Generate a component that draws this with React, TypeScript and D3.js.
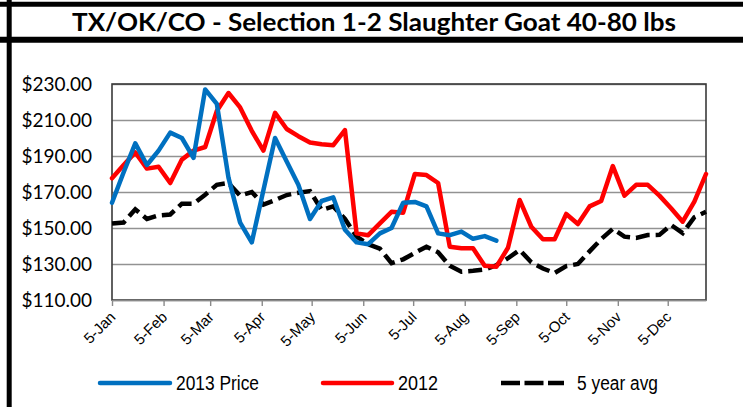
import * as d3 from 'd3'
import { useEffect, useRef } from 'react'

// weekly sale dates (MM-DD), 2013 calendar
const WEEKS = [
    '01-05', '01-12', '01-19', '01-26', '02-02', '02-09', '02-16', '02-23',
    '03-02', '03-09', '03-16', '03-23', '03-30', '04-06', '04-13', '04-20', '04-27',
    '05-04', '05-11', '05-18', '05-25', '06-01', '06-08', '06-15', '06-22', '06-29',
    '07-06', '07-13', '07-20', '07-27', '08-03', '08-10', '08-17', '08-24', '08-31',
    '09-07', '09-14', '09-21', '09-28', '10-05', '10-12', '10-19', '10-26',
    '11-02', '11-09', '11-16', '11-23', '11-30', '12-07', '12-14', '12-21', '12-28'
]

const PRICE_2013 = [
    164, 181, 197, 185, 193, 203, 200, 189, 227, 219, 178, 153, 142, 171, 200, 187, 174,
    155, 165, 167, 149, 142, 141, 147, 150, 164, 164.5, 162, 147, 146, 148, 144, 145.5, 143
]

const PRICE_2012 = [
    177.6, 185, 192, 183, 184, 175, 188, 193, 195, 215, 225, 217, 204, 193, 214, 205, 201,
    197.5, 196.5, 196, 204.4, 147, 146, 152.6, 159, 158.5, 180, 179.4, 175, 139.6, 138.7,
    138.7, 129, 128.5, 139, 165.6, 150.7, 143.7, 143.7, 157.8, 152.2, 162, 165, 184.4,
    168, 174, 174, 168, 161, 153.5, 164.6, 180
]

const AVG_5YR = [
    152.5, 153, 160.4, 155, 157, 157.5, 163.5, 163.5, 168.5, 174, 175, 168, 170, 163,
    165.5, 168.3, 169.6, 170.5, 160, 162, 155, 145.2, 141, 138.5, 130.5, 132.6, 136.2,
    139.6, 136.5, 129, 125.7, 126.2, 127, 129.3, 133.2, 137.8, 131, 127.5, 125, 128.8,
    130, 137, 143.8, 149.5, 145.2, 144.5, 146.1, 146.2, 151.7, 147.2, 156, 159
]

const MONTH_TICKS = [
    '01-05', '02-05', '03-05', '04-05', '05-05', '06-05',
    '07-05', '08-05', '09-05', '10-05', '11-05', '12-05'
]

const Y_TICKS = [110, 130, 150, 170, 190, 210, 230]

const TITLE = 'TX/OK/CO - Selection 1-2 Slaughter Goat 40-80 lbs'

const SERIES_NAMES = ['2013 Price', '2012', '5 year avg']

const WIDTH = 743
const HEIGHT = 407
const MARGIN = { top: 84, right: 37, bottom: 107, left: 112 }
const NARROW = "'Liberation Sans Narrow', 'Arial Narrow', 'Liberation Sans', Arial, sans-serif"

const select = d3.select
const toDate = (md: string) => new Date(2013, +md.slice(0, 2) - 1, +md.slice(3))

interface AxisProps {
    xScale: d3.ScaleTime<number, number>
    yScale: d3.ScaleLinear<number, number>
}

/* Y axis + gridlines */
const AxisLeft = ({ xScale, yScale }: AxisProps) => {
    const ref = useRef<SVGGElement>(null)

    useEffect(() => {
        if (!ref.current) return
        const w = xScale.range()[1] - xScale.range()[0]
        const g = select(ref.current)
        g.call(
            d3.axisLeft(yScale)
                .tickValues(Y_TICKS)
                .tickSize(-w)
                .tickPadding(20)
                .tickFormat((d) => '$' + d3.format('.2f')(d as number))
        )
        g.select('.domain').remove()
        g.selectAll('line').attr('stroke', '#929292').attr('stroke-width', 1.6)
        g.selectAll('text')
            .attr('fill', '#000')
            .style('font-family', 'Lato, sans-serif')
            .style('font-size', '19px')
    }, [xScale, yScale])

    return <g ref={ref} transform={`translate(${MARGIN.left},0)`} />
}

/* X axis */
const AxisBottom = ({ xScale, yScale }: AxisProps) => {
    const ref = useRef<SVGGElement>(null)

    useEffect(() => {
        if (!ref.current) return
        const g = select(ref.current)
        g.call(
            d3.axisBottom(xScale)
                .tickValues(MONTH_TICKS.map(toDate))
                .tickSizeInner(6)
                .tickSizeOuter(0)
                .tickFormat((d) => d3.timeFormat('%-d-%b')(d as Date))
        )
        g.select('.domain').attr('stroke', '#8a8a8a').attr('stroke-width', 1.6)
        g.selectAll('line').attr('stroke', '#8a8a8a').attr('stroke-width', 1.4)
        g.selectAll('text')
            .attr('fill', '#000')
            .attr('text-anchor', 'end')
            .attr('y', 0)
            .attr('dy', 0)
            .attr('transform', 'translate(4,18) rotate(-45)')
            .style('font-family', NARROW)
            .style('font-size', '15px')
    }, [xScale, yScale])

    return <g ref={ref} transform={`translate(0,${yScale.range()[0]})`} />
}

export default function App() {
    const dates = WEEKS.map(toDate)
    const xScale = d3.scaleTime()
        .domain([dates[0], dates[dates.length - 1]])
        .range([MARGIN.left, WIDTH - MARGIN.right])
    const yScale = d3.scaleLinear()
        .domain([110, 230])
        .range([HEIGHT - MARGIN.bottom, MARGIN.top])

    const line = d3.line<number>()
        .x((_, i) => xScale(dates[i]))
        .y((d) => yScale(d))

    const plotW = WIDTH - MARGIN.right - MARGIN.left
    const plotH = HEIGHT - MARGIN.bottom - MARGIN.top
    const legendY = 383

    return (
        <svg width={WIDTH} height={HEIGHT} style={{ position: 'absolute', left: 0, top: 0, background: '#fff' }}>
            {/* frame */}
            <line x1={0} x2={WIDTH} y1={4.3} y2={4.3} stroke="#000" strokeWidth={5} />
            <line x1={0} x2={WIDTH} y1={39.7} y2={39.7} stroke="#000" strokeWidth={6} />
            <line x1={9.2} x2={9.2} y1={0} y2={HEIGHT} stroke="#000" strokeWidth={5} />
            <text x={374} y={30.5} textAnchor="middle" fontFamily="Lato, sans-serif" fontWeight="bold"
                fontSize={24} textLength={604} lengthAdjust="spacingAndGlyphs">{TITLE}</text>

            <AxisLeft xScale={xScale} yScale={yScale} />
            <rect x={MARGIN.left} y={MARGIN.top} width={plotW} height={plotH}
                fill="none" stroke="#3a3a3a" strokeWidth={1.6} />
            <AxisBottom xScale={xScale} yScale={yScale} />

            <path d={line(AVG_5YR) as string} fill="none" stroke="#000" strokeWidth={4.5}
                strokeDasharray="14 6" />
            <path d={line(PRICE_2012) as string} fill="none" stroke="#ff0000" strokeWidth={4.5}
                strokeLinejoin="round" strokeLinecap="round" />
            <path d={line(PRICE_2013) as string} fill="none" stroke="#0070c0" strokeWidth={4.5}
                strokeLinejoin="round" strokeLinecap="round" />

            {/* legend */}
            <g fontFamily={NARROW} fontSize={20}>
                <line x1={100} x2={170} y1={legendY} y2={legendY} stroke="#0070c0" strokeWidth={4.5} strokeLinecap="round" />
                <text x={176} y={legendY + 7} textLength={83} lengthAdjust="spacingAndGlyphs">{SERIES_NAMES[0]}</text>
                <line x1={323} x2={392} y1={legendY} y2={legendY} stroke="#ff0000" strokeWidth={4.5} strokeLinecap="round" />
                <text x={398} y={legendY + 7} textLength={40} lengthAdjust="spacingAndGlyphs">{SERIES_NAMES[1]}</text>
                <line x1={501} x2={564} y1={legendY} y2={legendY} stroke="#000" strokeWidth={4.5} strokeDasharray="19 4.5" />
                <text x={577} y={legendY + 7} textLength={81} lengthAdjust="spacingAndGlyphs">{SERIES_NAMES[2]}</text>
            </g>
        </svg>
    )
}
